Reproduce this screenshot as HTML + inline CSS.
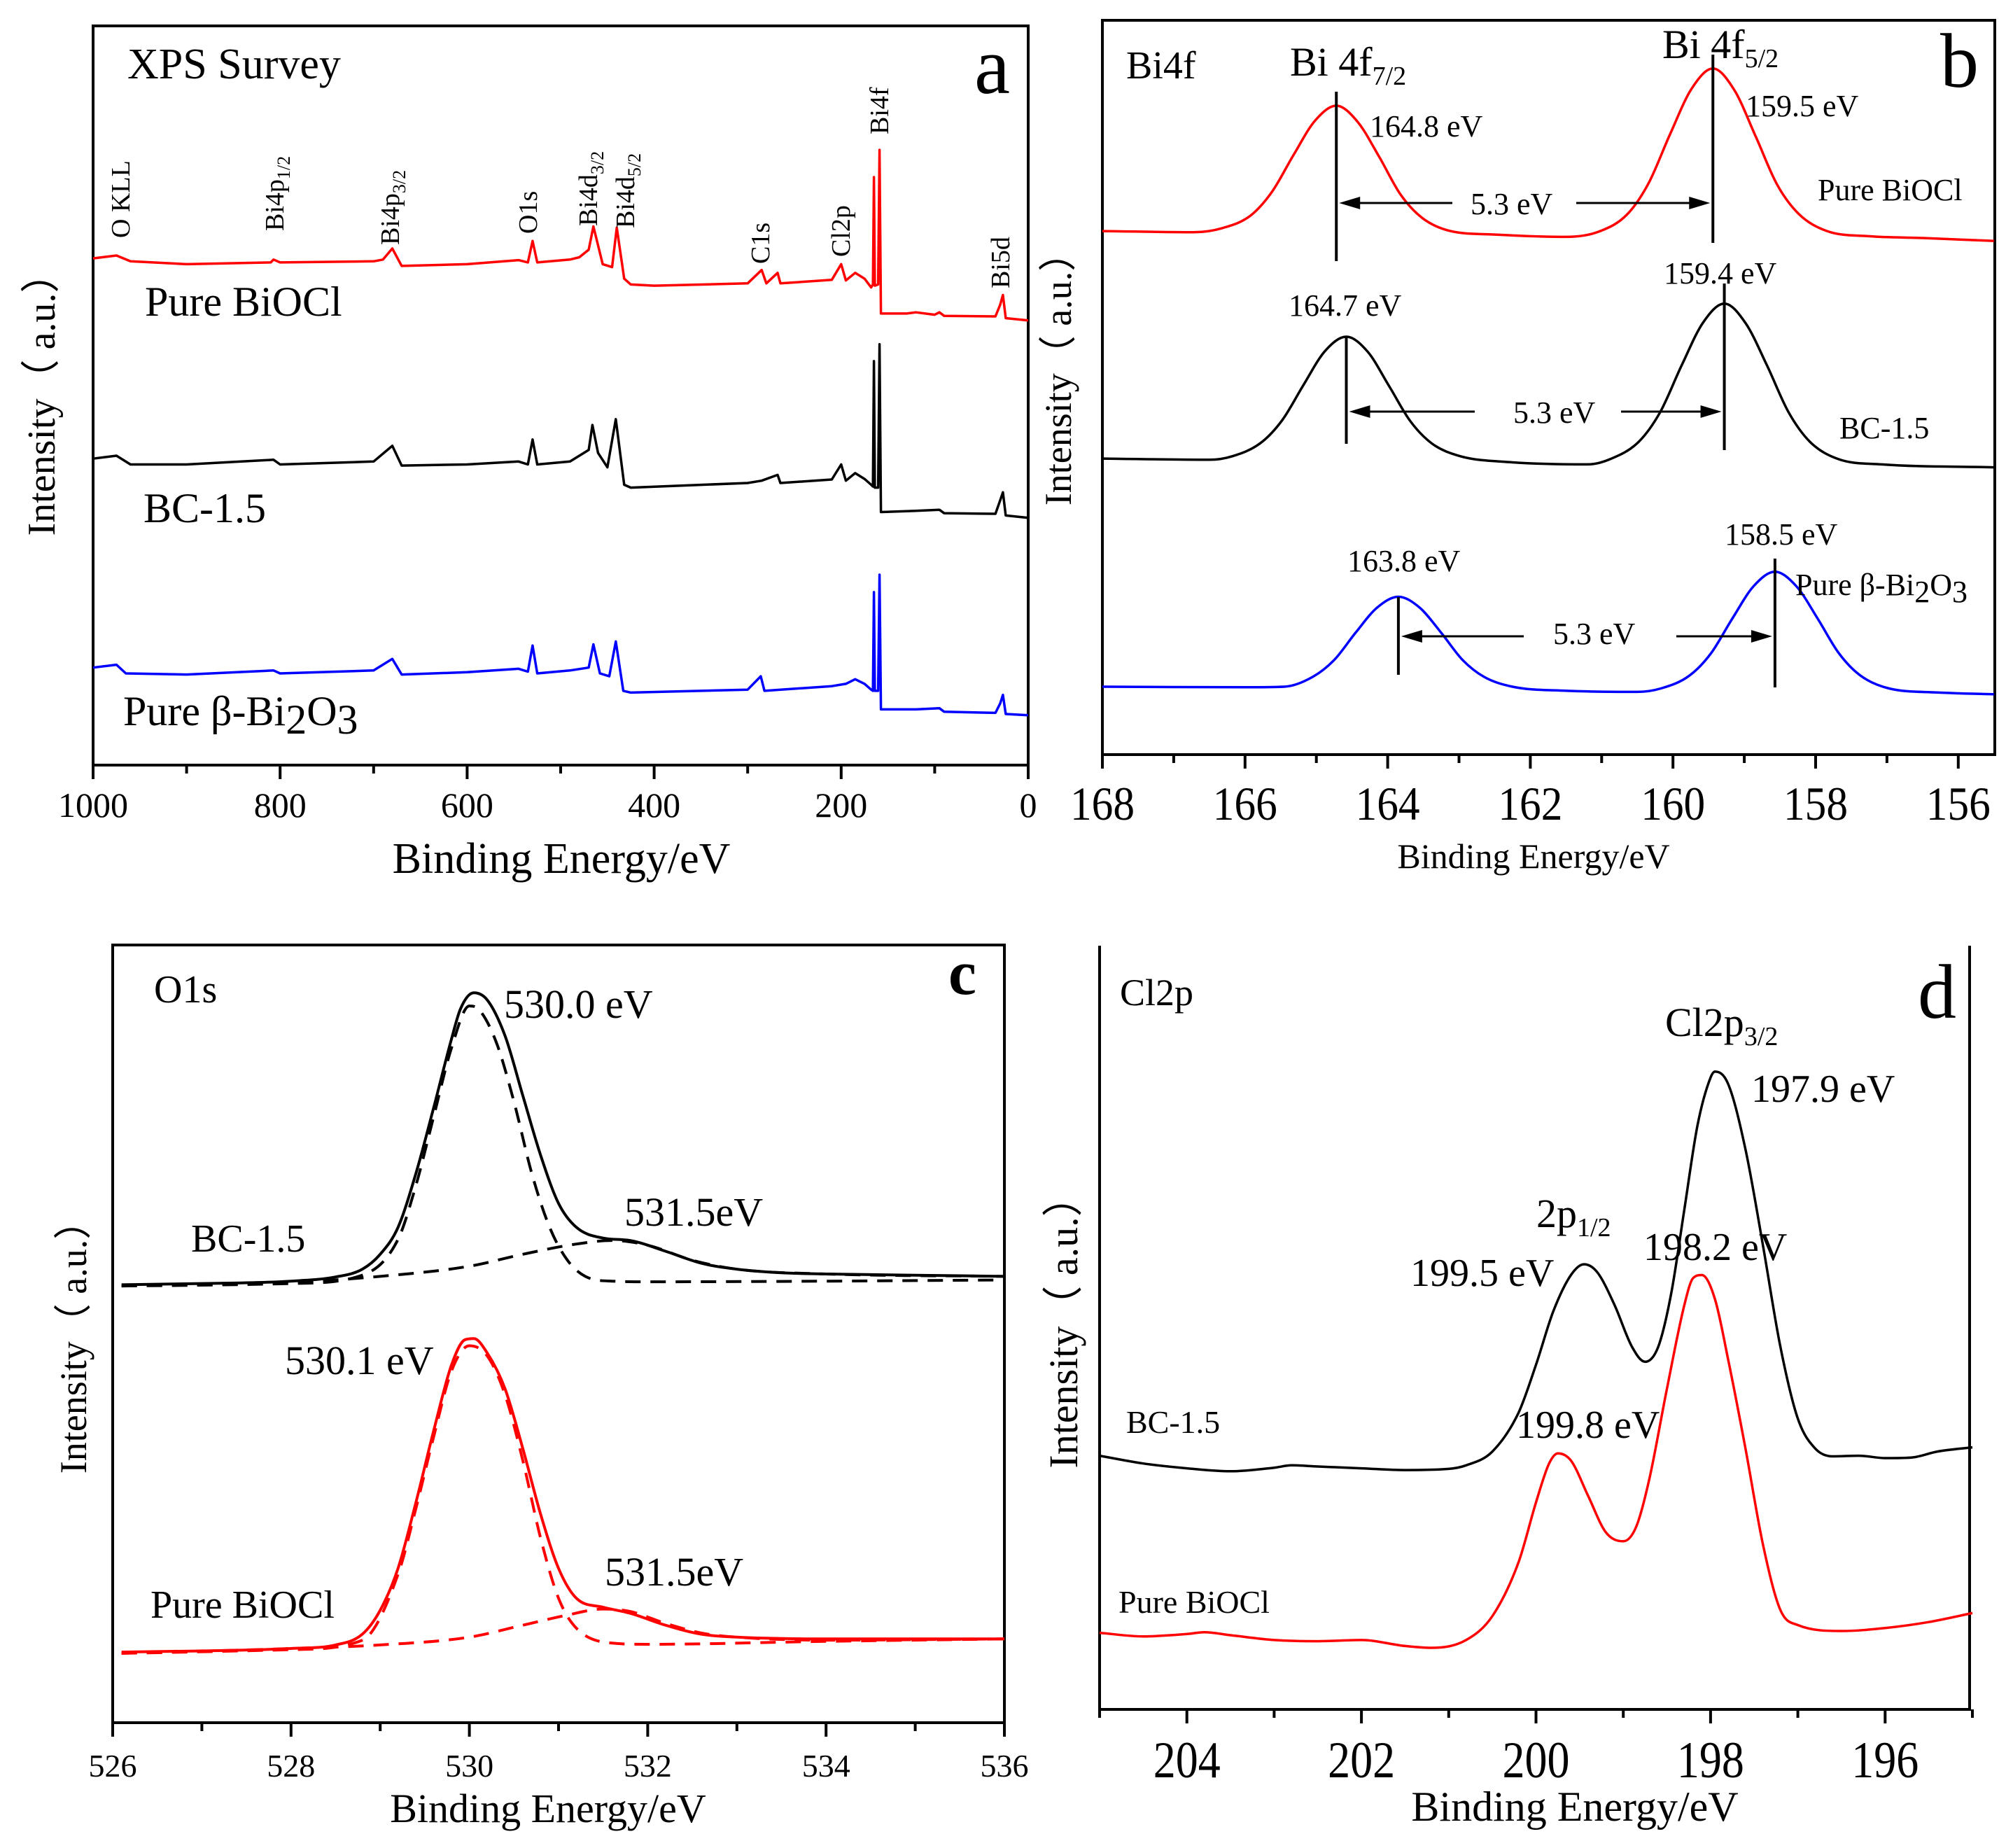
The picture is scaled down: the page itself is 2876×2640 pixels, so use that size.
<!DOCTYPE html>
<html><head><meta charset="utf-8"><title>XPS spectra</title>
<style>
html,body{margin:0;padding:0;background:#fff;}
svg{display:block;}
text{font-family:"Liberation Serif","Noto Serif CJK SC",serif;fill:#000;}
.cjk{font-family:"Liberation Serif","Noto Sans CJK SC",serif;}
</style></head>
<body>
<svg id="fig" xmlns="http://www.w3.org/2000/svg" width="2876" height="2640" viewBox="0 0 2876 2640">
<rect x="0" y="0" width="2876" height="2640" fill="#fff"/>

<!-- Panel a -->
<g>
<rect x="133" y="37" width="1336" height="1056" fill="none" stroke="#000" stroke-width="4"/>
<g id="a-plot"></g>
<text x="182" y="112" font-size="62">XPS Survey</text>
<text x="1392" y="133" font-size="115">a</text>
<text x="207" y="451" font-size="60">Pure BiOCl</text>
<text x="205" y="746" font-size="60">BC-1.5</text>
<text x="176" y="1036" font-size="60">Pure β-Bi<tspan dy="12">2</tspan><tspan dy="-12">O</tspan><tspan dy="12">3</tspan></text>
<g font-size="38">
<text transform="translate(185,340) rotate(-90)">O KLL</text>
<text transform="translate(405,330) rotate(-90)">Bi4p<tspan font-size="26" dy="9">1/2</tspan></text>
<text transform="translate(570,350) rotate(-90)">Bi4p<tspan font-size="26" dy="9">3/2</tspan></text>
<text transform="translate(767,334) rotate(-90)">O1s</text>
<text transform="translate(853,323) rotate(-90)">Bi4d<tspan font-size="26" dy="9">3/2</tspan></text>
<text transform="translate(906,326) rotate(-90)">Bi4d<tspan font-size="26" dy="9">5/2</tspan></text>
<text transform="translate(1099,377) rotate(-90)">C1s</text>
<text transform="translate(1214,367) rotate(-90)">Cl2p</text>
<text transform="translate(1269,192) rotate(-90)">Bi4f</text>
<text transform="translate(1442,412) rotate(-90)">Bi5d</text>
</g>
<text class="cjk" transform="translate(78,564) rotate(-90)" text-anchor="middle" font-size="56">Intensity（ a.u.）</text>
<text x="802" y="1247" text-anchor="middle" font-size="62">Binding Energy/eV</text>
</g>

<!-- Panel b -->
<g>
<rect x="1575" y="29" width="1275" height="1049" fill="none" stroke="#000" stroke-width="4"/>
<g id="b-plot"></g>
<text x="1609" y="112" font-size="56">Bi4f</text>
<text x="2772" y="124" font-size="110">b</text>
<text x="1843" y="108" font-size="58">Bi 4f<tspan font-size="38" dy="13">7/2</tspan></text>
<text x="2375" y="83" font-size="58">Bi 4f<tspan font-size="38" dy="13">5/2</tspan></text>
<g font-size="44">
<text x="1957" y="195">164.8 eV</text>
<text x="2494" y="166">159.5 eV</text>
<text x="2597" y="286">Pure BiOCl</text>
<text x="1841" y="451">164.7 eV</text>
<text x="2377" y="405">159.4 eV</text>
<text x="2628" y="626">BC-1.5</text>
<text x="1925" y="816">163.8 eV</text>
<text x="2464" y="778">158.5 eV</text>
<text x="2565" y="850">Pure β-Bi<tspan dy="10">2</tspan><tspan dy="-10">O</tspan><tspan dy="10">3</tspan></text>
<text x="2101" y="306">5.3 eV</text>
<text x="2162" y="604">5.3 eV</text>
<text x="2219" y="920">5.3 eV</text>
</g>
<text class="cjk" transform="translate(1530,528) rotate(-90)" text-anchor="middle" font-size="54">Intensity（ a.u.）</text>
<text x="2191" y="1240" text-anchor="middle" font-size="50">Binding Energy/eV</text>
</g>

<!-- Panel c -->
<g>
<rect x="161" y="1350" width="1274" height="1111" fill="none" stroke="#000" stroke-width="4"/>
<g id="c-plot"></g>
<text x="220" y="1432" font-size="56">O1s</text>
<text x="1355" y="1420" font-size="90" font-weight="bold">c</text>
<text x="720" y="1454" font-size="58">530.0 eV</text>
<text x="273" y="1788" font-size="56">BC-1.5</text>
<text x="892" y="1751" font-size="58">531.5eV</text>
<text x="407" y="1963" font-size="58">530.1 eV</text>
<text x="215" y="2311" font-size="56">Pure BiOCl</text>
<text x="864" y="2265" font-size="58">531.5eV</text>
<text class="cjk" transform="translate(123,1911) rotate(-90)" text-anchor="middle" font-size="54">Intensity（ a.u.）</text>
<text x="783" y="2603" text-anchor="middle" font-size="58">Binding Energy/eV</text>
</g>

<!-- Panel d -->
<g>
<path d="M1571 1351 V2442 H2814 V1351" fill="none" stroke="#000" stroke-width="4"/>
<g id="d-plot"></g>
<text x="1600" y="1436" font-size="54">Cl2p</text>
<text x="2740" y="1454" font-size="110">d</text>
<text x="2379" y="1480" font-size="58">Cl2p<tspan font-size="38" dy="13">3/2</tspan></text>
<text x="2502" y="1574" font-size="56">197.9 eV</text>
<text x="2195" y="1753" font-size="58">2p<tspan font-size="38" dy="13">1/2</tspan></text>
<text x="2015" y="1837" font-size="56">199.5 eV</text>
<text x="2348" y="1800" font-size="56">198.2 eV</text>
<text x="1609" y="2047" font-size="46">BC-1.5</text>
<text x="2166" y="2054" font-size="56">199.8 eV</text>
<text x="1598" y="2304" font-size="46">Pure BiOCl</text>
<text class="cjk" transform="translate(1539,1889) rotate(-90)" text-anchor="middle" font-size="58">Intensity（ a.u.）</text>
<text x="2250" y="2601" text-anchor="middle" font-size="60">Binding Energy/eV</text>
</g>
</svg>

<script>
// ---------- Panel a data (survey) ----------
const aRedE = [1000,975,960,900,810,807,800,700,690,680,670,600,545,535,530,525,490,480,470,465,455,445,440,432,425,400,300,285,280,268,265,210,200,195,185,175,168,166,165,164,160.5,159,157.5,130,120,100,95,90,35,30,27,24,0];
const aRedI = [873,878,868,863,866,871,866,868,871,890,860,863,870,866,903,866,871,875,888,928,863,858,926,838,828,826,830,853,830,848,830,836,863,835,848,838,823,828,1013,826,828,1060,778,778,780,776,780,774,773,793,810,770,766];
const aBlackE = [1000,975,960,900,807,800,700,680,670,600,545,535,530,525,490,470,466,460,450,441,432,425,300,285,268,265,210,200,195,185,175,168,166,165,164,160.5,159,157.5,120,95,90,35,30,27,24,0];
const aBlackI = [528,533,518,518,526,518,523,550,516,518,523,518,561,518,523,543,586,538,513,596,483,478,486,490,500,486,492,518,490,503,493,483,480,696,478,478,725,436,438,440,434,433,456,470,430,426];
const aBlueE = [1000,975,965,900,807,800,700,680,670,600,545,535,530,525,490,470,465,458,448,441,433,425,300,286,282,210,195,185,175,168,166,165,164,160.5,159,157.5,120,95,90,35,30,27,24,0];
const aBlueI = [168,173,158,156,163,158,163,183,156,160,166,161,206,158,163,168,208,158,153,213,128,125,130,153,128,136,140,148,140,130,128,298,128,128,328,96,96,98,92,90,106,121,88,86];
const aTicks = [1000,800,600,400,200,0];
const aMinor = [900,700,500,300,100];

// ---------- Panel b data (Bi4f) ----------
const bRedE = [168,166.72,166.32,165.92,165.62,165.32,165.02,164.72,164.42,164.12,163.82,163.52,163.12,162.52,161.5,161.04,160.64,160.34,160.04,159.74,159.44,159.14,158.84,158.54,158.24,157.84,157.24,156.5,155.5];
const bRedI = [902,900,907,929,970,1033,1092,1118,1090,1030,965,925,902,896,892,901,931,985,1069,1147,1182,1145,1065,982,932,902,893,890,885];
const bBlackE = [168,166.5,166.18,165.78,165.48,165.18,164.88,164.58,164.28,163.98,163.68,163.38,162.98,162.3,161.2,160.88,160.48,160.18,159.88,159.58,159.28,158.98,158.68,158.38,158.08,157.68,157.08,155.5];
const bBlackI = [510,508,514,537,576,637,695,720,694,635,574,536,514,504,500,509,539,590,670,744,777,743,670,590,539,509,500,495];
const bBlueE = [168,166,165.45,165.05,164.75,164.45,164.15,163.85,163.55,163.25,162.95,162.65,162.25,161.5,160.5,160.17,159.77,159.47,159.17,158.87,158.57,158.27,157.97,157.67,157.37,156.97,156.3,155.5];
const bBlueI = [117,116,117,134,163,210,253,272,253,210,163,134,117,110,108,114,136,174,234,290,315,290,234,174,136,114,107,104];
const bPeakE = [164.72,159.44,164.58,159.28,163.85,158.57];
const bTicks = [168,166,164,162,160,158,156];
const bMinor = [167,165,163,161,159,157];

// ---------- Panel c data (O1s) ----------
const cBlackE = [526.1,527,528,528.5,528.8,529.0,529.2,529.4,529.6,529.8,529.9,530.05,530.2,530.4,530.6,530.8,531.0,531.2,531.5,531.8,532.2,532.6,533,533.5,534,535,536];
const cBlackI = [732,734,738,745,758,783,828,918,1028,1143,1193,1220,1208,1148,1048,948,868,828,810,806,788,768,758,752,750,748,746];
const cBlackFit1E = [526.1,528,528.8,529.2,529.4,529.6,529.8,530.0,530.1,530.3,530.5,530.7,530.9,531.1,531.3,531.6,532,534,536];
const cBlackFit1I = [730,734,748,808,898,1013,1128,1198,1193,1138,1038,918,828,773,746,738,737,738,740];
const cBlackFit2E = [526.1,528,529,530,530.6,531.2,531.6,532,532.5,533,534,536];
const cBlackFit2I = [730,736,746,763,783,800,806,798,773,758,750,746];
const cRedE = [526.1,527,528,528.5,528.8,529.0,529.2,529.4,529.6,529.8,529.95,530.05,530.2,530.4,530.6,530.8,531.0,531.2,531.5,531.8,532.2,532.6,533,534,536];
const cRedI = [118,120,124,130,148,188,258,368,488,598,640,642,618,558,458,348,258,208,193,183,163,148,143,140,140];
const cRedFit1E = [526.1,528,528.8,529.2,529.4,529.6,529.8,530.0,530.2,530.4,530.6,530.8,531.0,531.2,531.6,532,534,536];
const cRedFit1I = [116,122,138,248,358,478,588,630,613,548,438,308,208,158,133,131,136,140];
const cRedFit2E = [526.1,528,529,530,530.6,531.1,531.5,531.8,532.2,532.6,533,534,536];
const cRedFit2I = [116,124,130,143,163,180,190,186,166,150,143,138,140];
const cTicks = [526,528,530,532,534,536];
const cMinor = [527,529,531,533,535];

// ---------- Panel d data (Cl2p) ----------
const dBlackE = [205,204.5,204,203.5,203,202.8,202.5,202,201.5,201,200.8,200.5,200.2,200,199.8,199.6,199.45,199.3,199.1,198.9,198.75,198.6,198.45,198.3,198.15,198.0,197.95,197.8,197.6,197.4,197.2,197.0,196.8,196.6,196.3,196,195.7,195.4,195];
const dBlackI = [424,411,403,398,404,408,406,403,400,402,408,431,496,576,666,726,744,731,676,606,581,606,696,836,976,1056,1066,1046,936,776,606,486,436,423,424,420,421,431,438];
const dRedE = [205,204.5,204,203.8,203.5,203,202.5,202,201.5,201.2,200.8,200.5,200.2,200,199.85,199.75,199.6,199.4,199.2,199.0,198.85,198.7,198.5,198.3,198.2,198.1,197.95,197.8,197.6,197.4,197.2,197.0,196.5,196,195.5,195];
const dRedI = [128,122,126,129,124,116,114,116,106,103,116,156,246,346,411,428,416,356,296,281,306,386,536,676,721,726,686,586,436,276,166,141,131,136,146,161];
const dTicks = [204,202,200,198,196];
const dMinor = [205,203,201,199,197,195];

// ---------- axis functions ----------
const xa = e => 133 + (1000 - e) * 1.336;
const ya = v => 1093 - v / 1.206;
const xb = e => 1575 + (168 - e) * 101.9;
const yb = v => 1078 - v / 1.206;
const xc = e => 161 + (e - 526) * 127.4;
const yc = v => 2461 - v / 1.17;
const xd = e => 1571 + (205 - e) * 124.7;
const yd = v => 2442 - v / 1.17;

const NS = 'http://www.w3.org/2000/svg';
function mk(tag, attrs, parent) {
  const el = document.createElementNS(NS, tag);
  for (const k in attrs) el.setAttribute(k, attrs[k]);
  parent.appendChild(el);
  return el;
}
function linePath(E, I, fx, fy) {
  return E.map((e, i) => (i ? 'L' : 'M') + fx(e).toFixed(1) + ' ' + fy(I[i]).toFixed(1)).join(' ');
}
function smoothPath(E, I, fx, fy) {
  let p = E.map((e, i) => [fx(e), fy(I[i])]);
  if (p[0][0] > p[p.length - 1][0]) p = p.reverse();
  const n = p.length, d = [], m = [];
  for (let i = 0; i < n - 1; i++) d.push((p[i + 1][1] - p[i][1]) / (p[i + 1][0] - p[i][0]));
  m[0] = d[0]; m[n - 1] = d[n - 2];
  for (let i = 1; i < n - 1; i++) m[i] = (d[i - 1] * d[i] <= 0) ? 0 : (d[i - 1] + d[i]) / 2;
  for (let i = 0; i < n - 1; i++) {
    if (d[i] === 0) { m[i] = 0; m[i + 1] = 0; continue; }
    const a = m[i] / d[i], b = m[i + 1] / d[i], s = a * a + b * b;
    if (s > 9) { const t = 3 / Math.sqrt(s); m[i] = t * a * d[i]; m[i + 1] = t * b * d[i]; }
  }
  let s = 'M' + p[0][0].toFixed(1) + ' ' + p[0][1].toFixed(1);
  for (let i = 0; i < n - 1; i++) {
    const h = (p[i + 1][0] - p[i][0]) / 3;
    s += ' C' + (p[i][0] + h).toFixed(1) + ' ' + (p[i][1] + m[i] * h).toFixed(1) + ' ' +
      (p[i + 1][0] - h).toFixed(1) + ' ' + (p[i + 1][1] - m[i + 1] * h).toFixed(1) + ' ' +
      p[i + 1][0].toFixed(1) + ' ' + p[i + 1][1].toFixed(1);
  }
  return s;
}
function ticks(g, major, minor, fx, y0, labY, fs, prefix, tlen) {
  major.forEach(t => {
    const l = mk('line', {x1: fx(t), x2: fx(t), y1: y0, y2: y0 + 20, stroke: '#000', 'stroke-width': 4}, g);
    
    
    const tx = mk('text', {x: fx(t), y: labY, 'text-anchor': 'middle', 'font-size': fs}, g);
    if (tlen) { tx.setAttribute('textLength', tlen); tx.setAttribute('lengthAdjust', 'spacingAndGlyphs'); }
    tx.textContent = t;
    
    
  });
  minor.forEach(t => {
    const l = mk('line', {x1: fx(t), x2: fx(t), y1: y0, y2: y0 + 12, stroke: '#000', 'stroke-width': 4}, g);
    
    
  });
}
function curve(g, d, color, w, dash, name) {
  const el = mk('path', {d: d, fill: 'none', stroke: color, 'stroke-width': w, 'stroke-linejoin': 'round'}, g);
  if (dash) el.setAttribute('stroke-dasharray', dash);
  
  
}

// Panel a
const ga = document.getElementById('a-plot');
curve(ga, linePath(aRedE, aRedI, xa, ya), '#ff0000', 3.5, null, 'survey-pure-biocl');
curve(ga, linePath(aBlackE, aBlackI, xa, ya), '#000000', 3.5, null, 'survey-bc-1-5');
curve(ga, linePath(aBlueE, aBlueI, xa, ya), '#0000ff', 3.5, null, 'survey-pure-bi2o3');
ticks(ga, aTicks, aMinor, xa, 1093, 1167, 50, 'a-x', null);

// Panel b
const gb = document.getElementById('b-plot');
curve(gb, smoothPath(bRedE, bRedI, xb, yb), '#ff0000', 3.5, null, 'bi4f-pure-biocl');
curve(gb, smoothPath(bBlackE, bBlackI, xb, yb), '#000000', 3.5, null, 'bi4f-bc-1-5');
curve(gb, smoothPath(bBlueE, bBlueI, xb, yb), '#0000ff', 3.5, null, 'bi4f-pure-bi2o3');
ticks(gb, bTicks, bMinor, xb, 1078, 1171, 68, 'b-x', 92);
const bLineTop = [131, 78, 481, 405, 853, 798];
const bLineBot = [373, 347, 634, 643, 964, 982];
bPeakE.forEach((e, i) => {
  const l = mk('line', {x1: xb(e), x2: xb(e), y1: bLineTop[i], y2: bLineBot[i], stroke: '#000', 'stroke-width': 4}, gb);
  
  
});
const arrowY = [290, 588, 909];
const arrowGapL = [2075, 2107, 2177];
const arrowGapR = [2252, 2316, 2395];
arrowY.forEach((y, k) => {
  const x1 = xb(bPeakE[2 * k]) + 4, x2 = xb(bPeakE[2 * k + 1]) - 4;
  const l1 = mk('line', {x1: arrowGapL[k], x2: x1 + 26, y1: y, y2: y, stroke: '#000', 'stroke-width': 3}, gb);
  
  
  const h1 = mk('path', {d: `M${x1} ${y} l30 -9 v18 z`, fill: '#000'}, gb);
  
  
  const l2 = mk('line', {x1: arrowGapR[k], x2: x2 - 26, y1: y, y2: y, stroke: '#000', 'stroke-width': 3}, gb);
  
  
  const h2 = mk('path', {d: `M${x2} ${y} l-30 -9 v18 z`, fill: '#000'}, gb);
  
  
});

// Panel c
const gc = document.getElementById('c-plot');
curve(gc, smoothPath(cBlackFit1E, cBlackFit1I, xc, yc), '#000', 4, '22 14', 'o1s-bc-fit-lattice-o');
curve(gc, smoothPath(cBlackFit2E, cBlackFit2I, xc, yc), '#000', 4, '22 14', 'o1s-bc-fit-surface-oh');
curve(gc, smoothPath(cBlackE, cBlackI, xc, yc), '#000', 4, null, 'o1s-bc-1-5');
curve(gc, smoothPath(cRedFit1E, cRedFit1I, xc, yc), '#ff0000', 4, '22 14', 'o1s-biocl-fit-lattice-o');
curve(gc, smoothPath(cRedFit2E, cRedFit2I, xc, yc), '#ff0000', 4, '22 14', 'o1s-biocl-fit-surface-oh');
curve(gc, smoothPath(cRedE, cRedI, xc, yc), '#ff0000', 4, null, 'o1s-pure-biocl');
ticks(gc, cTicks, cMinor, xc, 2461, 2538, 46, 'c-x', null);

// Panel d
const gd = document.getElementById('d-plot');
curve(gd, smoothPath(dBlackE, dBlackI, xd, yd), '#000', 3.5, null, 'cl2p-bc-1-5');
curve(gd, smoothPath(dRedE, dRedI, xd, yd), '#ff0000', 3.5, null, 'cl2p-pure-biocl');
ticks(gd, dTicks, dMinor, xd, 2442, 2539, 74, 'd-x', 96);
</script>
</body></html>
